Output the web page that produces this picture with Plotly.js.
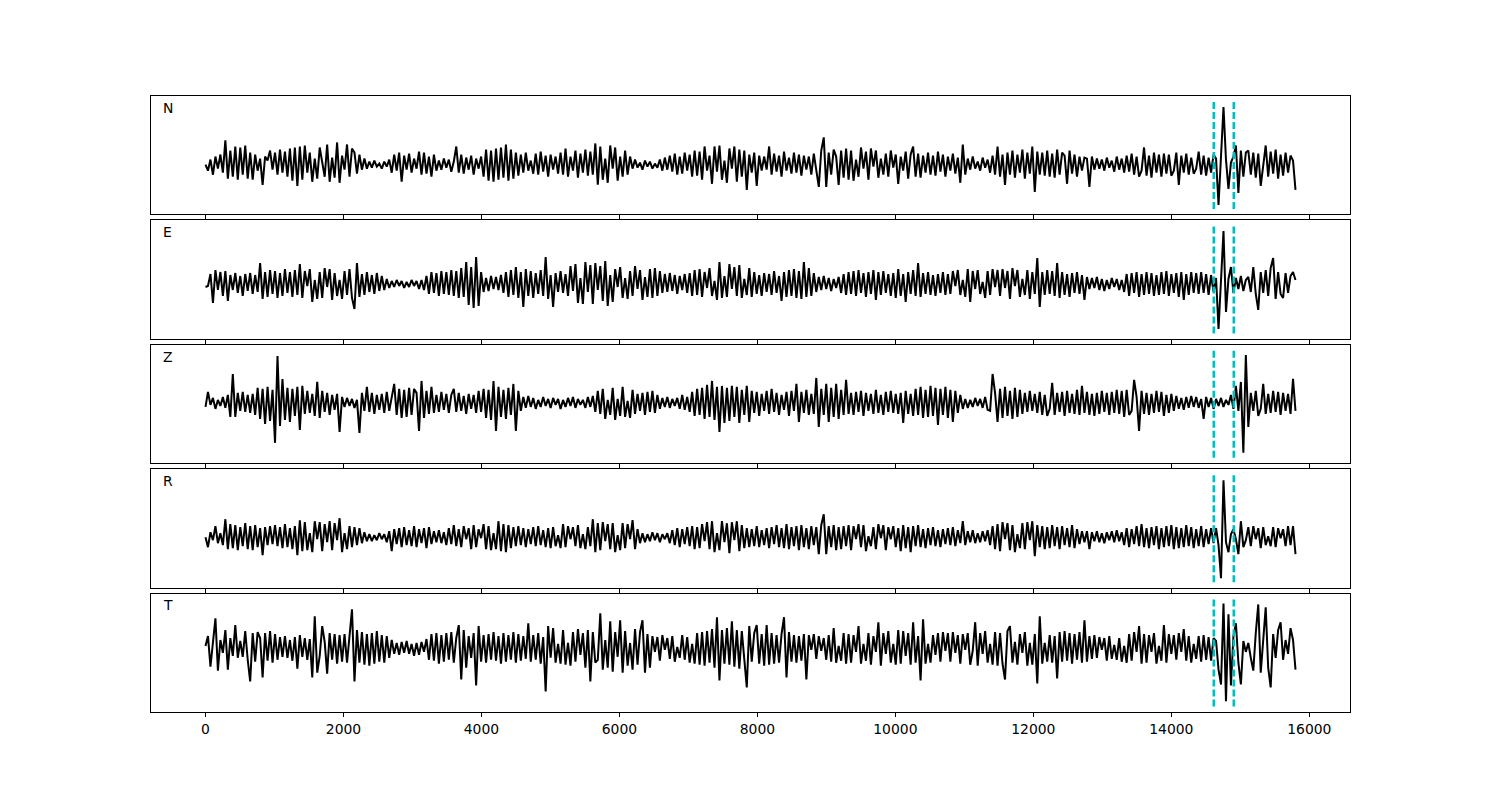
<!DOCTYPE html>
<html>
<head>
<meta charset="utf-8">
<script src="https://cdn.plot.ly/plotly-3.0.1.min.js"></script>
<style>html,body{margin:0;padding:0;background:#fff;}#chart{width:1500px;height:800px;}</style>
</head>
<body>
<div id="chart"></div>
<script>
// Channel labels (top to bottom)
const channelLabels = ['N', 'E', 'Z', 'R', 'T'];
// Samples span 0 .. sampleEnd
const sampleEnd = 15800;
// Picked phase arrivals (dashed cyan lines)
const pickTimes = [14615, 14905];
// x tick values
const xTicks = [0, 2000, 4000, 6000, 8000, 10000, 12000, 14000, 16000];

// Waveform extrema (arbitrary amplitude units)
const traceN = [
0,-6,5,-10,8,-4,10,-8,24,-14,14,-12,18,-15,17,-10,19,-14,12,-15,
10,-6,6,-20,8,4,14,-5,12,-10,15,-8,13,-12,16,-16,17,-21,18,-15,
19,-8,12,-17,6,-14,17,2,-12,20,-17,7,-13,22,-18,9,-5,20,-12,16,
12,-9,10,-5,6,-4,3,-3,4,-2,1,-4,3,-2,5,-8,10,-6,12,-17,
9,-5,11,-8,6,-4,13,-10,12,-9,8,-12,10,-6,4,-5,6,-3,5,-7,
3,18,-8,10,-9,7,-5,9,-10,6,-4,8,-12,15,-16,14,-17,16,-15,17,
-13,20,-16,15,-14,12,-11,10,-8,12,-6,4,-9,11,-10,13,-7,9,-12,10,
-5,8,-9,12,-10,16,-12,8,-6,14,-13,11,-8,15,-11,13,-10,21,-20,18,
-15,6,-18,19,-4,17,-16,8,-12,14,-10,8,-4,5,-3,2,-5,4,-2,3,
-4,1,-3,5,-6,7,-5,9,-7,11,-10,8,-9,12,-6,10,-12,14,-11,13,
-15,18,-6,9,-19,18,-7,19,-15,4,-18,16,-4,18,-17,15,-12,14,-25,10,
-8,12,-21,9,-6,8,-5,18,-10,11,-7,9,-12,13,-6,7,-9,12,-8,10,
-11,9,-5,8,-10,11,-6,-22,14,27,-22,12,-10,15,8,-20,14,-13,16,-15,
14,-16,5,-12,17,-4,13,-15,16,-2,14,-13,6,-10,11,-12,14,-3,10,-19,
8,-6,13,-14,10,18,-12,11,-13,9,-8,12,-10,9,-11,13,-7,10,-12,8,
-6,11,-9,7,-18,20,-10,6,-5,8,-4,3,-6,7,-3,5,-8,9,-10,18,
-12,10,-20,12,-10,14,-13,10,-8,15,-14,12,-9,18,-27,13,-10,12,-11,14,
-12,11,-13,15,-10,12,9,-19,14,-9,10,-12,8,-6,7,6,-22,8,-5,6,
-4,5,-6,7,-3,4,-7,8,-5,6,-8,9,-7,11,-10,8,-12,-6,17,-11,
9,-13,12,-8,10,-12,11,-9,10,-11,-6,12,-20,9,-8,11,-10,7,-9,-4,
13,-10,9,-11,7,-8,10,6,-40,8,57,5,-24,2,8,19,-28,14,-12,12,
14,-10,12,-13,11,-21,-3,19,-12,13,-9,15,-14,10,-11,12,-8,9,4,-25
];

const traceE = [
-3,-2,10,-19,14,-6,12,-12,13,-17,9,-6,11,-9,8,-12,10,-7,11,-10,
9,-8,21,-15,12,-13,14,-10,13,-14,11,-12,15,-9,12,-13,14,-11,20,-14,
13,-2,15,-18,4,-15,12,-14,16,-3,15,-16,11,-12,4,-15,13,-11,15,-14,
-25,21,-13,10,-11,12,-8,9,-10,11,-7,8,-6,5,-4,3,-3,4,-2,3,
-4,2,-3,4,-2,3,-5,4,-6,8,-10,12,-9,11,-12,13,-10,12,-11,14,
-12,13,-14,16,-13,22,-21,17,-24,27,-22,12,-8,6,-7,8,-5,7,-6,9,
-9,12,-13,14,-11,17,-14,12,-23,15,-12,13,-14,11,-10,14,-12,27,-15,9,
-23,11,-8,13,-9,10,-12,18,-7,20,-19,6,-20,22,-8,19,-20,21,-6,18,
-17,23,-22,9,-18,15,-3,17,-14,6,-15,13,-12,18,-5,14,-16,7,-13,15,
-14,16,-12,13,-9,10,-8,11,-7,9,-10,8,-6,10,-9,11,-12,14,-11,15,
-13,12,-4,16,-12,3,-16,22,-14,8,-13,20,-5,17,-12,19,-14,5,-11,16,
-13,12,-10,9,-12,11,-8,10,-11,13,-9,8,-17,12,-13,14,-12,15,-14,13,
-15,22,-13,16,-12,11,-8,7,-6,8,-5,6,-7,5,-4,7,-9,10,-11,12,
-10,13,-12,14,-9,11,-13,12,-10,14,-16,12,-11,13,-9,10,-12,11,-14,15,
-12,10,-18,12,-10,14,-12,21,-13,11,-10,12,-11,9,-12,10,-9,12,-11,10,
-10,13,-2,14,-11,4,-13,15,-18,13,-5,14,-10,2,-14,13,-11,15,-3,14,
-12,15,-4,13,-15,16,-2,14,-13,5,-11,14,-15,12,-10,26,-23,12,-11,14,
-10,13,-12,21,-14,12,-11,10,-13,11,-9,12,-10,9,-16,7,-5,6,-4,7,
-6,5,-7,4,-5,6,-3,5,-6,4,-8,10,-12,11,-9,12,-13,10,-11,12,
-10,11,-12,9,-11,12,-10,13,-12,10,-9,11,-13,12,-16,10,-11,12,-9,11,
-10,12,-9,10,-11,9,-8,6,-45,5,53,-28,5,17,-9,6,-5,8,-7,4,
7,-8,17,-10,-26,12,-9,14,-12,16,26,-15,12,-10,-14,11,-9,8,12,4
];

const traceZ = [
-4,11,-2,5,-6,3,-3,6,-5,8,-14,29,-14,10,-8,11,-9,8,-10,9,
-12,15,-16,14,-21,16,-18,13,-40,47,-23,24,-17,15,-19,14,-13,16,-27,17,
-11,12,-10,9,-13,21,-15,12,-9,10,-12,8,-7,9,-29,6,-4,5,-3,4,
-5,3,-30,10,-8,16,-9,10,-11,8,-7,9,-10,11,-8,4,19,-12,14,-15,
13,-14,15,-12,14,10,-28,22,-15,12,-11,16,-10,8,-9,11,-7,9,-10,8,
14,-9,10,-8,7,-11,9,-6,8,-10,12,-9,14,-15,13,-17,22,-28,16,-14,
13,-16,15,-12,19,-28,12,-8,6,-5,7,-4,5,-6,3,-4,6,-3,4,-5,
5,-2,4,-6,3,-4,5,-3,6,-5,4,-2,3,-5,6,-4,7,-9,12,-11,
14,-16,3,-12,15,-17,4,-13,16,-14,2,-15,13,-11,9,-8,10,-12,11,-9,
12,-10,8,-6,5,-4,6,-5,4,-3,5,-6,8,-7,6,-9,11,-13,14,-12,
15,-16,18,-14,22,-17,16,-29,17,-20,15,-18,17,-14,16,-20,13,-12,17,-19,
12,-10,11,-13,9,-8,12,-11,14,-9,10,-12,8,-7,11,-13,12,-8,19,-19,
11,-10,13,-12,9,-11,25,-24,14,-12,19,-19,15,-14,19,-16,13,-12,23,-11,
10,-12,11,-9,12,-13,10,-8,9,-11,13,-10,8,-12,11,-9,12,-10,9,-11,
10,-20,12,-11,9,-13,14,-12,16,-15,13,-14,17,-13,15,-22,14,-12,16,-15,
13,-19,12,-10,8,-6,4,-5,3,-4,5,-3,4,-5,6,-7,-8,29,10,-19,
14,-15,16,-13,12,-16,15,-14,13,-11,10,-9,12,-8,9,-10,11,-12,8,-13,
-6,20,-12,10,-9,11,-13,12,-10,9,-11,13,-12,17,-10,11,-12,9,-13,10,
-11,12,-9,10,-12,11,-10,13,-11,12,-14,13,-12,-8,23,6,-28,12,-11,10,
-12,9,-10,12,-9,11,-13,8,-10,9,-8,7,-6,5,-7,6,-5,7,-4,6,
-5,4,-16,6,-4,5,-6,4,-3,5,-4,3,-2,8,-6,17,-8,21,-50,48,
-24,10,-8,12,-13,-6,19,-11,9,-10,12,-9,11,-12,10,-8,9,-11,24,-8
];

const traceR = [
0,-10,5,-3,11,-6,4,-8,18,-12,13,-11,12,-13,10,-9,14,-12,11,-13,
12,-10,9,-18,10,-8,11,-7,12,-9,10,-11,13,-10,9,-12,11,-18,17,-14,
15,-13,4,-15,16,-2,15,-14,13,-5,16,-13,14,-3,19,-15,4,-12,11,-10,
10,-8,9,-6,5,-4,3,-4,2,-3,4,-2,3,-5,6,-14,8,-7,9,-10,
10,-8,7,-9,11,-10,8,-6,9,-11,10,-7,6,-5,7,-6,5,-8,9,-7,
12,-9,8,-10,11,-2,9,-12,12,-10,8,-1,13,-12,11,-13,4,-12,16,-14,
13,-15,12,-11,10,-9,11,-8,9,-10,8,-7,10,-9,11,-8,7,-10,9,-11,
10,-9,2,-11,13,-10,11,-2,10,-9,12,-11,3,-12,10,-9,18,-15,14,-13,
15,-4,13,-12,14,-15,2,-13,14,-11,13,-2,17,-12,8,-6,4,-5,3,-4,
5,-3,4,-5,3,-2,4,-6,7,-8,9,-10,8,-7,10,-9,11,-12,10,-11,
13,-4,15,-12,16,-15,4,-13,16,-5,14,-16,15,-3,16,-14,12,-11,9,-10,
8,-9,11,-10,7,-8,9,-11,10,-7,12,-10,9,-11,13,-12,10,-9,11,-13,
12,-10,9,-12,11,-8,10,-17,12,23,-17,11,-10,12,-13,10,-12,11,-9,12,
-13,11,-2,13,-10,12,-14,1,-9,10,-12,13,-1,12,-13,10,-2,11,-10,9,
-14,12,-11,10,-15,11,-9,12,-10,8,-11,9,-8,10,-9,7,-10,8,-7,9,
-8,10,-9,7,-6,16,-8,6,-5,7,-6,4,-5,6,-4,7,-8,11,-12,13,
-14,15,-2,14,-13,12,-15,3,-11,14,-12,15,-3,16,-19,12,-10,11,-12,10,
-11,12,-9,10,-12,11,-8,9,-10,12,-11,8,-7,6,-5,6,-12,5,-4,6,
-5,4,-6,5,-3,6,-5,7,-4,5,-8,9,-10,8,-7,11,-9,13,-10,9,
-11,10,-8,11,-12,9,-10,11,-9,12,-12,10,-11,9,-10,12,-9,10,-11,8,
-9,11,-10,8,-7,9,-6,9,-8,-41,57,-5,-15,3,8,-2,-17,16,-10,-3,
10,-9,11,-2,9,-11,10,-8,1,-9,10,-10,9,-1,8,-9,11,-8,11,-17
];

const traceT = [
2,12,-19,6,30,-23,8,-5,18,-22,10,-8,23,-10,7,-9,17,-12,-34,15,
-14,16,10,-30,15,-13,17,-15,14,-12,11,-9,12,-10,8,-13,11,-21,13,-9,
10,-12,9,-30,32,-25,-8,22,6,-26,15,-12,14,-16,13,-14,14,-15,12,39,
-34,18,-15,16,-17,14,-18,15,-16,17,-14,13,-15,12,-10,8,-6,5,-7,6,
-5,7,-6,4,-8,5,-7,6,-4,9,-12,14,-13,15,-16,13,-14,15,-12,16,
-15,10,23,-32,18,-20,12,-10,15,-38,22,-14,13,-15,14,-12,16,-13,12,-16,
15,-14,13,-12,16,-15,14,-13,12,-11,25,-14,13,-12,15,-16,11,-44,22,-10,
20,-15,4,-16,18,-17,5,-18,16,-14,19,-7,15,-20,18,-34,16,-15,-12,35,
-22,8,-20,27,-24,16,-9,28,-25,17,-18,5,-22,19,-17,16,28,-25,14,-20,
12,-4,11,-13,13,-2,10,-11,12,-14,1,-10,13,-12,11,-15,4,-16,15,-17,
16,-18,17,-15,19,-20,31,-33,18,-16,20,-17,27,-19,18,-21,17,-15,-40,22,
-14,15,23,-16,14,-18,23,-17,15,-16,13,-15,14,31,-30,16,-14,13,-15,12,
-13,14,-32,13,-2,14,-11,12,-3,10,-12,13,-14,20,-15,2,-13,15,-16,14,
-15,13,-4,22,-16,4,-13,15,-17,12,-4,26,-18,15,-6,17,-15,4,-17,18,
-16,17,-8,15,-17,26,-15,12,-33,29,-16,4,-15,13,-7,15,-14,16,-3,15,
-14,16,-5,13,-16,14,-2,15,-17,-3,26,-18,15,-6,17,-15,4,-17,16,-18,
15,-16,-32,17,22,-15,6,-17,14,-5,16,-18,5,-17,14,-36,32,-16,5,-14,
13,-15,12,-31,16,-14,17,-13,15,-16,14,-12,16,-15,28,-14,12,-11,13,-10,
11,-2,10,-13,12,-11,3,-12,10,-14,2,-15,14,-13,16,-4,22,-16,14,-15,
13,-4,15,-16,2,-13,23,-15,14,-6,13,-12,15,-4,19,-13,12,-15,4,-11,
12,-14,13,-12,11,-13,10,7,-22,-37,45,-54,34,-38,12,25,-15,-37,7,-4,
5,-10,-23,15,44,-25,10,41,-20,-40,14,-10,18,26,-12,8,-6,20,8,-22
];

const series = [traceN, traceE, traceZ, traceR, traceT];

// ---- layout geometry ----
const nP = series.length;
const gapFrac = 6 / 616;
const hFrac = (1 - gapFrac * (nP - 1)) / nP;

const traces = [];
const shapes = [];
const annotations = [];
const layout = {
  width: 1500, height: 800,
  margin: {l: 151, r: 150, t: 96, b: 88, pad: 0},
  paper_bgcolor: '#ffffff', plot_bgcolor: '#ffffff',
  showlegend: false,
  font: {family: 'DejaVu Sans, sans-serif', size: 13.9, color: '#000'}
};

series.forEach((ys, i) => {
  const sfx = i === 0 ? '' : String(i + 1);
  const xs = ys.map((_, j) => j * sampleEnd / (ys.length - 1));
  traces.push({
    type: 'scatter', mode: 'lines', x: xs, y: ys,
    xaxis: 'x' + sfx, yaxis: 'y' + sfx,
    line: {color: '#000000', width: 2, shape: 'linear'},
    hoverinfo: 'skip'
  });
  const mn = Math.min(...ys), mx = Math.max(...ys);
  const lo = 1.1 * mn, hi = 1.1 * mx;
  const pad = 0.05 * (hi - lo);
  const top = 1 - i * (hFrac + gapFrac);
  const bot = top - hFrac;
  const xa = {
    domain: [0, 1], anchor: 'y' + sfx,
    range: [-0.05 * sampleEnd, 1.05 * sampleEnd],
    tickmode: 'array', tickvals: xTicks, ticktext: xTicks.map(String),
    showticklabels: i === nP - 1,
    ticks: 'outside', ticklen: 4, tickwidth: 1, tickcolor: '#000',
    showline: true, linecolor: '#000', linewidth: 1, mirror: true,
    showgrid: false, zeroline: false,
    tickfont: {family: 'DejaVu Sans, sans-serif', size: 13.9, color: '#000'}
  };
  if (i > 0) xa.matches = 'x';
  layout['xaxis' + sfx] = xa;
  layout['yaxis' + sfx] = {
    domain: [Math.max(0, bot), Math.min(1, top)], anchor: 'x' + sfx,
    range: [lo - pad, hi + pad],
    showticklabels: false, ticks: '',
    showline: true, linecolor: '#000', linewidth: 1, mirror: true,
    showgrid: false, zeroline: false
  };
  pickTimes.forEach(t => {
    shapes.push({
      type: 'line', xref: 'x' + sfx, yref: 'y' + sfx,
      x0: t, x1: t, y0: lo, y1: hi,
      line: {color: '#00bfbf', width: 2.5, dash: '7px,3px'},
      layer: 'above'
    });
  });
  annotations.push({
    text: channelLabels[i], showarrow: false,
    xref: 'x' + sfx + ' domain', yref: 'y' + sfx + ' domain',
    x: 0.008, y: 0.9, xanchor: 'left', yanchor: 'middle',
    font: {family: 'DejaVu Sans, sans-serif', size: 13.9, color: '#000'}
  });
});

layout.shapes = shapes;
layout.annotations = annotations;

Plotly.newPlot('chart', traces, layout, {displayModeBar: false, staticPlot: true});
</script>
</body>
</html>
